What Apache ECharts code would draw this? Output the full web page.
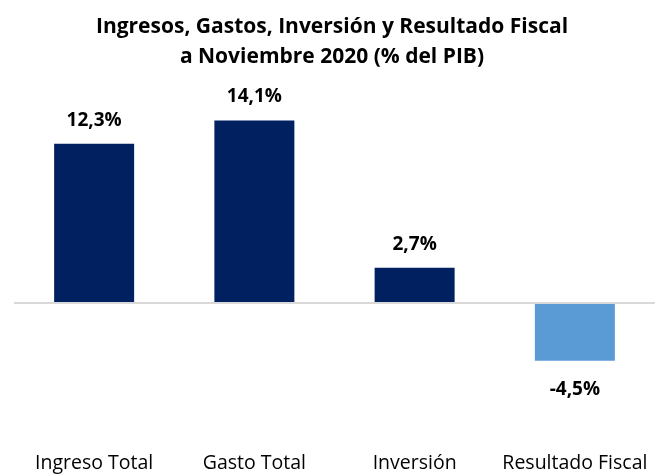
<!DOCTYPE html>
<html>
<head>
<meta charset="utf-8">
<script src="https://cdn.jsdelivr.net/npm/echarts@6/dist/echarts.min.js"></script>
<style>
  html, body { margin: 0; padding: 0; background: #fff; }
  #chart { width: 664px; height: 474px; }
</style>
</head>
<body>
<div id="chart"></div>
<script>
var categories = ['Ingreso Total', 'Gasto Total', 'Inversión', 'Resultado Fiscal'];
var values = [12.3, 14.1, 2.7, -4.5];
var barColors = ['#002060', '#002060', '#002060', '#5B9BD5'];

var myChart = echarts.init(document.getElementById('chart'));

var seriesData = [];
for (var i = 0; i < values.length; ++i) {
    var neg = values[i] < 0;
    seriesData.push({
        value: values[i],
        itemStyle: { color: barColors[i] },
        label: { position: neg ? 'bottom' : 'top', distance: neg ? 19 : 14 }
    });
}

var option = {
    backgroundColor: '#ffffff',
    textStyle: { fontFamily: '"Open Sans", sans-serif' },
    title: {
        text: 'Ingresos, Gastos, Inversión y Resultado Fiscal\na Noviembre 2020 (% del PIB)',
        left: 'center',
        top: 7,
        textStyle: {
            fontSize: 21,
            fontWeight: 'bold',
            color: '#000000',
            lineHeight: 30,
            fontFamily: '"Open Sans", sans-serif'
        }
    },
    grid: { left: 14, right: 9, top: 96, bottom: 68 },
    xAxis: {
        type: 'category',
        data: categories,
        axisLine: { show: false, onZero: false },
        axisTick: { show: false },
        axisLabel: { interval: 0, hideOverlap: false, margin: 47, fontSize: 19.5, color: '#000000' }
    },
    yAxis: {
        type: 'value',
        min: -8,
        max: 16,
        show: false,
        splitLine: { show: false }
    },
    series: [{
        type: 'bar',
        barWidth: 80,
        data: seriesData,
        label: {
            show: true,
            fontSize: 19,
            fontWeight: 'bold',
            color: '#000000',
            formatter: function (p) {
                return p.value.toFixed(1).replace('.', ',') + '%';
            }
        },
        markLine: {
            silent: true,
            symbol: 'none',
            label: { show: false },
            lineStyle: { color: '#d9d9d9', width: 2, type: 'solid' },
            data: [{ yAxis: 0 }]
        }
    }]
};

myChart.setOption(option);
</script>
</body>
</html>
